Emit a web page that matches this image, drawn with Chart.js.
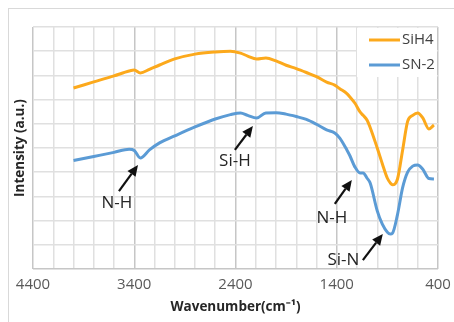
<!DOCTYPE html>
<html>
<head>
<meta charset="utf-8">
<script src="https://cdn.jsdelivr.net/npm/chart.js@4"></script>
<style>
  html, body { margin: 0; padding: 0; background: #fff; }
  canvas { display: block; }
</style>
</head>
<body>
<canvas id="myChart" width="454" height="322"></canvas>
<script>
// Wavenumbers (cm-1)
const wavenumbers = [4000, 3800, 3600, 3450, 3400, 3340, 3250, 3150, 3000, 2800, 2600, 2450, 2350, 2280, 2190, 2100, 2000, 1900, 1800, 1700, 1600, 1500, 1420, 1370, 1300, 1270, 1220, 1170, 1140, 1100, 1070, 1000, 950, 900, 870, 850, 800, 750, 700, 650, 600, 550, 490, 440];
const sih4 = [7.48, 7.73, 7.98, 8.18, 8.22, 8.10, 8.25, 8.43, 8.68, 8.88, 8.97, 9.00, 8.92, 8.80, 8.68, 8.72, 8.60, 8.42, 8.28, 8.12, 7.95, 7.72, 7.60, 7.45, 7.25, 7.11, 6.85, 6.49, 6.35, 6.15, 5.85, 5.00, 4.35, 3.75, 3.55, 3.48, 3.72, 4.90, 6.10, 6.35, 6.45, 6.24, 5.79, 5.95];
const sn2 = [4.48, 4.65, 4.82, 4.95, 4.90, 4.59, 4.92, 5.21, 5.50, 5.87, 6.20, 6.38, 6.45, 6.35, 6.24, 6.45, 6.46, 6.40, 6.30, 6.18, 5.98, 5.75, 5.62, 5.41, 4.92, 4.68, 4.21, 3.97, 3.97, 3.75, 3.55, 2.40, 1.85, 1.52, 1.45, 1.48, 2.25, 3.35, 4.00, 4.25, 4.30, 4.12, 3.74, 3.72];
const seriesNames = ['SiH4', 'SN-2'];
const majorTicks = [4400, 3400, 2400, 1400, 400];

// annotations: label position and arrow (tail -> head), in data units
const noteLabels = ['N-H', 'Si-H', 'N-H', 'Si-N'];
const noteText = [[3571, 2.71], [2406, 4.46], [1448, 2.11], [1335, 0.35]];
const noteTail = [[3551, 3.22], [2406, 4.92], [1419, 2.69], [1142, 0.37]];
const noteHead = [[3363, 4.30], [2228, 5.91], [1251, 3.68], [945, 1.45]];

const colors = ['#FCA91C', '#5B9BD5'];
const fontFam = '"Open Sans", "Liberation Sans", sans-serif';

const framePlugin = {
    id: 'frame',
    beforeDraw(chart) {
        const ctx = chart.ctx;
        ctx.save();
        ctx.strokeStyle = '#D9D9D9';
        ctx.lineWidth = 1;
        ctx.strokeRect(8.5, 8.5, 500, 400);
        ctx.restore();
    }
};

const legendPlugin = {
    id: 'insideLegend',
    beforeDatasetsDraw(chart) {
        const ctx = chart.ctx;
        const a = chart.chartArea;
        ctx.save();
        ctx.fillStyle = '#fff';
        ctx.fillRect(a.right - 81, a.top + 1, 80, 49);
        ctx.font = '15px ' + fontFam;
        ctx.textBaseline = 'middle';
        seriesNames.forEach((name, i) => {
            const y = a.top + 13 + i * 25;
            ctx.strokeStyle = colors[i];
            ctx.lineWidth = 3;
            ctx.beginPath();
            ctx.moveTo(a.right - 69, y);
            ctx.lineTo(a.right - 38, y);
            ctx.stroke();
            ctx.fillStyle = '#404040';
            ctx.fillText(name, a.right - 36, y);
        });
        ctx.restore();
    }
};

const notesPlugin = {
    id: 'notes',
    afterDatasetsDraw(chart) {
        const ctx = chart.ctx;
        const xs = chart.scales.x, ys = chart.scales.y;
        ctx.save();
        ctx.font = '17px ' + fontFam;
        ctx.textAlign = 'center';
        ctx.textBaseline = 'middle';
        noteLabels.forEach((txt, i) => {
            ctx.fillStyle = '#262626';
            ctx.fillText(txt, xs.getPixelForValue(noteText[i][0]), ys.getPixelForValue(noteText[i][1]));
            const x1 = xs.getPixelForValue(noteTail[i][0]), y1 = ys.getPixelForValue(noteTail[i][1]);
            const x2 = xs.getPixelForValue(noteHead[i][0]), y2 = ys.getPixelForValue(noteHead[i][1]);
            const ang = Math.atan2(y2 - y1, x2 - x1);
            const hl = 11, hw = 5;
            const bx = x2 - hl * Math.cos(ang), by = y2 - hl * Math.sin(ang);
            ctx.strokeStyle = '#111';
            ctx.lineWidth = 2.2;
            ctx.beginPath();
            ctx.moveTo(x1, y1);
            ctx.lineTo(bx, by);
            ctx.stroke();
            ctx.fillStyle = '#111';
            ctx.beginPath();
            ctx.moveTo(x2, y2);
            ctx.lineTo(bx + hw * Math.sin(ang), by - hw * Math.cos(ang));
            ctx.lineTo(bx - hw * Math.sin(ang), by + hw * Math.cos(ang));
            ctx.closePath();
            ctx.fill();
        });
        ctx.restore();
    }
};

const ctx = document.getElementById('myChart');

new Chart(ctx, {
    type: 'line',
    data: {
        datasets: [sih4, sn2].map((vals, i) => ({
            label: seriesNames[i],
            data: wavenumbers.map((w, j) => ({ x: w, y: vals[j] })),
            borderColor: colors[i],
            borderWidth: 3,
            pointRadius: 0,
            cubicInterpolationMode: 'monotone',
            fill: false
        }))
    },
    options: {
        responsive: false,
        animation: false,
        layout: { padding: { left: 12, top: 27, right: 16, bottom: 7 } },
        plugins: {
            legend: { display: false },
            tooltip: { enabled: false }
        },
        scales: {
            x: {
                type: 'linear',
                reverse: true,
                min: 400,
                max: 4400,
                afterBuildTicks(scale) {
                    const t = [];
                    for (let v = 400; v <= 4400; v += 200) t.push({ value: v });
                    scale.ticks = t;
                },
                afterFit(scale) { scale.height = 46; },
                ticks: {
                    autoSkip: false,
                    maxRotation: 0,
                    padding: 7,
                    color: '#595959',
                    font: { family: fontFam, size: 15 },
                    callback: v => majorTicks.includes(v) ? String(v) : ''
                },
                grid: {
                    drawTicks: false,
                    lineWidth: 1.5,
                    color: c => majorTicks.includes(c.tick.value) ? '#C6C6C6' : '#E0E0E0'
                },
                border: { display: false },
                title: {
                    display: true,
                    text: 'Wavenumber(cm⁻¹)',
                    color: '#262626',
                    padding: 0,
                    font: { family: fontFam, size: 13.5, weight: 'bold' }
                }
            },
            y: {
                min: 0,
                max: 10,
                ticks: { display: false, stepSize: 1 },
                afterFit(scale) { scale.width = 21; },
                grid: {
                    drawTicks: false,
                    lineWidth: 1.5,
                    color: c => c.tick.value === 0 ? '#C6C6C6' : '#E0E0E0'
                },
                border: { display: false },
                title: {
                    display: true,
                    text: 'Intensity (a.u.)',
                    color: '#262626',
                    padding: 0,
                    font: { family: fontFam, size: 13.5, weight: 'bold' }
                }
            }
        }
    },
    plugins: [framePlugin, legendPlugin, notesPlugin]
});
</script>
</body>
</html>
